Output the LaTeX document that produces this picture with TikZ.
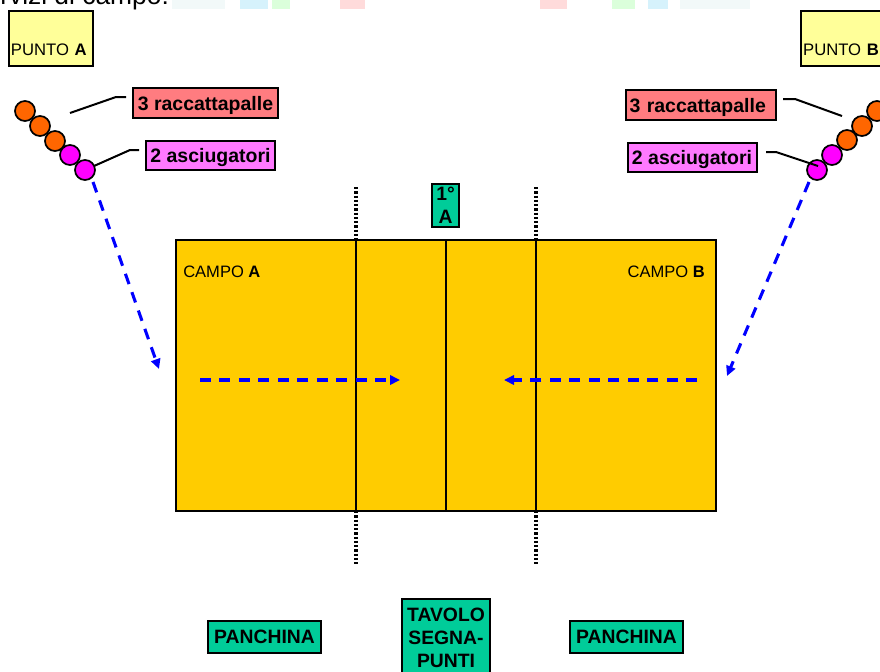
\documentclass[tikz,border=0pt]{standalone}
\usepackage{fontspec}
\setmainfont{Liberation Sans}
\usetikzlibrary{arrows.meta}
\definecolor{padyellow}{HTML}{FFFF99}
\definecolor{redbox}{HTML}{FF7C80}
\definecolor{pinkbox}{HTML}{FF79FF}
\definecolor{greenbox}{HTML}{00CC99}
\definecolor{fieldc}{HTML}{FFCC00}
\definecolor{orangeb}{HTML}{FF6600}
\definecolor{magb}{HTML}{FF00FF}
\definecolor{arrowb}{HTML}{0000FF}
\tikzset{
  x=0.75pt,y=-0.75pt,
  boxed/.style={draw=black,line width=1.5pt,inner sep=0pt,outer sep=0pt,anchor=north west,align=center},
  punto/.style={boxed,fill=padyellow,font=\fontsize{12.5}{25}\selectfont,align=left},
  label box/.style={boxed,text height=14pt,font=\bfseries\fontsize{14.6}{17}\selectfont},
  green box/.style={boxed,fill=greenbox,font=\bfseries\fontsize{14.5}{17}\selectfont},
  ball/.style={circle,draw=black,line width=1.3pt,minimum size=15pt,inner sep=0pt,outer sep=0pt},
  leader/.style={draw=black,line width=1.5pt},
  netline/.style={draw=black,line width=2.2pt},
  dotline/.style={draw=black,line width=2.3pt,dash pattern=on 1.7pt off 1.5pt},
  flow/.style={draw=arrowb,line width=2.3pt,dash pattern=on 8.2pt off 6.4pt,-{Triangle[length=7.5pt,width=7pt]}},
  fieldtext/.style={font=\fontsize{12.4}{14}\selectfont,inner sep=0pt}
}
\begin{document}
\begin{tikzpicture}
\useasboundingbox (0,0) rectangle (880,671);
\clip (0,0) rectangle (880,671);
% pale smudges along the top edge
\fill[teal!5]  (172,0) rectangle (225,9);
\fill[cyan!16] (240,0) rectangle (268,9);
\fill[green!14!white] (272,0) rectangle (290,9);
\fill[red!14]  (340,0) rectangle (365,9);
\fill[red!14]  (540,0) rectangle (567,9);
\fill[green!14!white] (612,0) rectangle (635,9);
\fill[cyan!16] (648,0) rectangle (668,9);
\fill[teal!5]  (680,0) rectangle (750,9);
\node[anchor=base west,inner sep=0pt,font=\fontsize{19.8}{22}\selectfont] (head) at (0,4.5) {rvizi di campo:};
% field
\node[boxed,fill=fieldc,line width=2pt,minimum width=405pt,minimum height=203.25pt] (field) at (176,240) {};
\coordinate (n1t) at (356,240); \coordinate (n1b) at (356,511);
\coordinate (n2t) at (446,240); \coordinate (n2b) at (446,511);
\coordinate (n3t) at (536,240); \coordinate (n3b) at (536,511);
\draw[netline] (n1t) -- (n1b);
\draw[netline] (n2t) -- (n2b);
\draw[netline] (n3t) -- (n3b);
\coordinate (d1a) at (356,187); \coordinate (d1b) at (356,565);
\coordinate (d3a) at (536,187); \coordinate (d3b) at (536,565);
\draw[dotline] (d1a) -- (n1t);
\draw[dotline] (n1b) -- (d1b);
\draw[dotline] (d3a) -- (n3t);
\draw[dotline] (n3b) -- (d3b);
\node[fieldtext,anchor=west] (campoa) at (183,272) {CAMPO \textbf{A}};
\node[fieldtext,anchor=east] (campob) at (705,272) {CAMPO \textbf{B}};
% punto boxes
\node[punto,minimum width=63pt,minimum height=41.2pt,text width=60pt] (pa) at (9,11) {~\\[0pt]PUNTO \textbf{A}};
\node[punto,minimum width=70pt,minimum height=41.2pt,text width=66pt] (pb) at (800.5,11) {~\\[0pt]PUNTO \textbf{B}};
% labels
\node[label box,fill=redbox,minimum width=108.75pt,minimum height=23pt] (ra) at (133,87.5) {3 raccattapalle};
\node[label box,fill=pinkbox,minimum width=96.75pt,minimum height=21.75pt] (aa) at (146,141) {2 asciugatori};
\node[label box,fill=redbox,minimum width=112.5pt,minimum height=23pt,text width=106.5pt,align=left] (rb) at (625.5,89.5) {3 raccattapalle};
\node[label box,fill=pinkbox,minimum width=96.75pt,minimum height=21.75pt] (ab) at (627.5,142.5) {2 asciugatori};
% balls
\foreach \n/\px/\py/\c in {a1/25/111/orangeb,a2/40/126/orangeb,a3/55/141/orangeb,a4/70/155/magb,a5/85/170/magb,
  b5/877/111/orangeb,b4/862/126/orangeb,b3/847/140/orangeb,b2/832/155/magb,b1/817/170/magb}
  \node[ball,fill=\c] (\n) at (\px,\py) {};
% leaders
\coordinate (la1) at (70,113); \coordinate (la2) at (116,97); \coordinate (la3) at (126,97);
\draw[leader] (la1) -- (la2) -- (la3);
\coordinate (lb2) at (130,150); \coordinate (lb3) at (139,150);
\draw[leader] (a5) -- (lb2) -- (lb3);
\coordinate (lc1) at (783,99); \coordinate (lc2) at (795,99); \coordinate (lc3) at (842,116);
\draw[leader] (lc1) -- (lc2) -- (lc3);
\coordinate (ld1) at (766,152); \coordinate (ld2) at (776,152); \coordinate (ld3) at (818,166);
\draw[leader] (ld1) -- (ld2) -- (ld3);
% flows
\coordinate (fa1) at (93,182); \coordinate (fa2) at (159,369);
\coordinate (fb1) at (809,182); \coordinate (fb2) at (727,376);
\coordinate (fc1) at (200,380); \coordinate (fc2) at (400,380);
\coordinate (fd1) at (697,380); \coordinate (fd2) at (504,380);
\draw[flow] (fa1) -- (fa2);
\draw[flow] (fb1) -- (fb2);
\draw[flow] (fc1) -- (fc2);
\draw[flow] (fd1) -- (fd2);
% green boxes
\node[green box,minimum width=20.25pt,minimum height=32.25pt] (ref) at (432,184) {1°\\A};
\node[green box,minimum width=84.75pt,minimum height=24pt] (pl) at (208,621) {PANCHINA};
\node[green box,minimum width=84.75pt,minimum height=24pt] (pr) at (570,621) {PANCHINA};
\node[green box,minimum width=66pt,minimum height=58pt,text width=66pt] (tav) at (402,599) {TAVOLO\\SEGNA-\\PUNTI};
\end{tikzpicture}
\end{document}
